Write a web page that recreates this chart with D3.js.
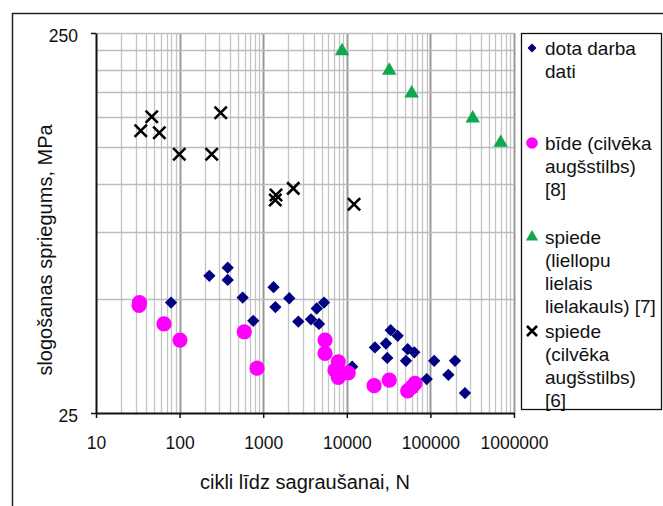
<!DOCTYPE html>
<html>
<head>
<meta charset="utf-8">
<script src="https://cdn.jsdelivr.net/npm/d3@7"></script>
<style>
  html, body { margin: 0; padding: 0; background: #fff; }
  svg { display: block; }
  text { font-family: "Liberation Sans", Arial, sans-serif; fill: #111; }
</style>
</head>
<body>
<svg id="chart" width="663" height="506"></svg>
<script>
// ---- data ----
const xTicks = [10, 100, 1000, 10000, 100000, 1000000];
const yTicks = [25, 250];
const yMinorGrid = [50, 75, 100, 125, 150, 175, 200, 225];

const dotaN = [79, 227, 376, 376, 568, 761, 1330, 1400, 2050, 2630, 3730, 4370, 5340, 4650, 11600, 21700, 29400, 30500, 33500, 40600, 53500, 64200, 51000, 111000, 197000, 90300, 164000, 259000];
const dotaS = [48.8, 57.4, 60.3, 56.0, 50.3, 43.7, 53.6, 47.5, 50.1, 43.5, 44.1, 47.1, 48.8, 42.9, 33.1, 37.2, 38.1, 34.9, 41.3, 39.9, 36.8, 36.1, 34.3, 34.3, 34.3, 30.7, 31.5, 28.2];

const bideN = [32.7, 33.1, 65, 101, 594, 843, 5490, 5490, 7910, 7230, 7910, 10400, 21200, 32200, 53500, 60300, 65500];
const bideS = [48.0, 48.8, 42.9, 38.9, 40.9, 32.8, 38.9, 35.9, 34.1, 32.4, 31.0, 31.9, 29.5, 30.5, 28.6, 29.3, 29.9];

const liellopiN = [8770, 32200, 59700, 321000, 693000];
const liellopiS = [224, 199, 173.5, 149, 128.6];

const cilvekaN = [34.3, 46.4, 57.2, 99.2, 242, 310, 1395, 1422, 2290, 12200];
const cilvekaS = [138.3, 150.5, 136.6, 119.9, 119.9, 154.2, 90.9, 93.7, 97.5, 88.6];

const legendLines = [
  ["dota darba", "dati"],
  ["bīde (cilvēka", "augšstilbs)", "[8]"],
  ["spiede", "(liellopu", "lielais", "lielakauls) [7]"],
  ["spiede", "(cilvēka", "augšstilbs)", "[6]"]
];
const xTitle = "cikli līdz sagraušanai, N";
const yTitle = "slogošanas spriegums, MPa";

// ---- drawing ----
const svg = d3.select("#chart");
const L = 96, R = 514, T = 33, B = 413;
const x = d3.scaleLog().domain([10, 1000000]).range([L, R]);
const y = d3.scaleLog().domain([25, 250]).range([B, T]);
const zip = (a, b) => a.map((v, i) => [v, b[i]]);

// outer chart border
svg.append("rect").attr("x", 12.5).attr("y", 13.5).attr("width", 700).attr("height", 600)
  .attr("fill", "none").attr("stroke", "#222").attr("stroke-width", 1.5);

// gridlines
const grid = svg.append("g");
const minorX = [];
for (let e = 1; e < 6; e++) for (let k = 2; k <= 9; k++) minorX.push(k * Math.pow(10, e));
grid.selectAll(".vx").data(minorX).join("line")
  .attr("x1", d => Math.round(x(d)) + 0.5).attr("x2", d => Math.round(x(d)) + 0.5)
  .attr("y1", T).attr("y2", B).attr("stroke", "#c4c4c4").attr("stroke-width", 1.3);
grid.selectAll(".vm").data(xTicks.slice(1)).join("line")
  .attr("x1", d => Math.round(x(d)) + 0.5).attr("x2", d => Math.round(x(d)) + 0.5)
  .attr("y1", T).attr("y2", B).attr("stroke", "#9a9a9a").attr("stroke-width", 2);
grid.selectAll(".hy").data(yMinorGrid.concat([250])).join("line")
  .attr("x1", L).attr("x2", R)
  .attr("y1", d => Math.round(y(d)) + 0.5).attr("y2", d => Math.round(y(d)) + 0.5)
  .attr("stroke", "#bcbcbc").attr("stroke-width", 1.6);

// axes
const xAxis = svg.append("g").attr("transform", `translate(0,${B})`)
  .call(d3.axisBottom(x).tickValues(xTicks).tickFormat(d3.format("d")).tickSizeInner(5).tickSizeOuter(0).tickPadding(19));
const yAxis = svg.append("g").attr("transform", `translate(${L},0)`)
  .call(d3.axisLeft(y).tickValues(yTicks).tickFormat(d3.format("d")).tickSizeInner(5).tickSizeOuter(0).tickPadding(13));
[xAxis, yAxis].forEach(g => {
  g.select(".domain").attr("stroke", "#111").attr("stroke-width", 2);
  g.selectAll(".tick line").attr("stroke", "#111").attr("stroke-width", 1.5);
  g.selectAll(".tick text").attr("font-size", 17.5).attr("fill", "#111")
    .attr("font-family", "'Liberation Sans', Arial, sans-serif");
});
yAxis.selectAll(".tick text").attr("dy", "0.47em");

// axis titles
svg.append("text").attr("x", 305).attr("y", 489).attr("text-anchor", "middle")
  .attr("font-size", 20).text(xTitle);
svg.append("text").attr("transform", "translate(51.5,250) rotate(-90)").attr("text-anchor", "middle")
  .attr("font-size", 20).text(yTitle);

// series
const plot = svg.append("g");
plot.selectAll(".dota").data(zip(dotaN, dotaS)).join("path")
  .attr("d", d3.symbol(d3.symbolSquare, 76)())
  .attr("transform", d => `translate(${x(d[0])},${y(d[1])}) rotate(45)`)
  .attr("fill", "#000080");
plot.selectAll(".bide").data(zip(bideN, bideS)).join("circle")
  .attr("cx", d => x(d[0])).attr("cy", d => y(d[1])).attr("r", 7.6)
  .attr("fill", "#ff00ff");
plot.selectAll(".liel").data(zip(liellopiN, liellopiS)).join("path")
  .attr("d", d3.symbol(d3.symbolTriangle, 90)())
  .attr("transform", d => `translate(${x(d[0])},${y(d[1])})`)
  .attr("fill", "#10a84e");
plot.selectAll(".cilv").data(zip(cilvekaN, cilvekaS)).join("path")
  .attr("d", d3.symbol(d3.symbolTimes, 100)())
  .attr("transform", d => `translate(${x(d[0])},${y(d[1])})`)
  .attr("fill", "none").attr("stroke", "#000").attr("stroke-width", 2.6);

// legend
const lg = svg.append("g");
lg.append("rect").attr("x", 521.5).attr("y", 33.5).attr("width", 140).attr("height", 376)
  .attr("fill", "#fff").attr("stroke", "#111").attr("stroke-width", 1.3);
const entryY = [48, 143, 237, 331];
const markers = [
  g => g.append("path").attr("d", d3.symbol(d3.symbolSquare, 40)()).attr("transform", "rotate(45)").attr("fill", "#000080"),
  g => g.append("circle").attr("r", 5.8).attr("fill", "#ff00ff"),
  g => g.append("path").attr("d", d3.symbol(d3.symbolTriangle, 64)()).attr("fill", "#10a84e"),
  g => g.append("path").attr("d", d3.symbol(d3.symbolTimes, 68)()).attr("fill", "none").attr("stroke", "#000").attr("stroke-width", 2.6)
];
legendLines.forEach((lines, i) => {
  const mg = lg.append("g").attr("transform", `translate(532,${entryY[i]})`);
  markers[i](mg);
  lines.forEach((t, j) => {
    lg.append("text").attr("x", 545).attr("y", entryY[i] + 7 + j * 23)
      .attr("font-size", 19).text(t);
  });
});
</script>
</body>
</html>
